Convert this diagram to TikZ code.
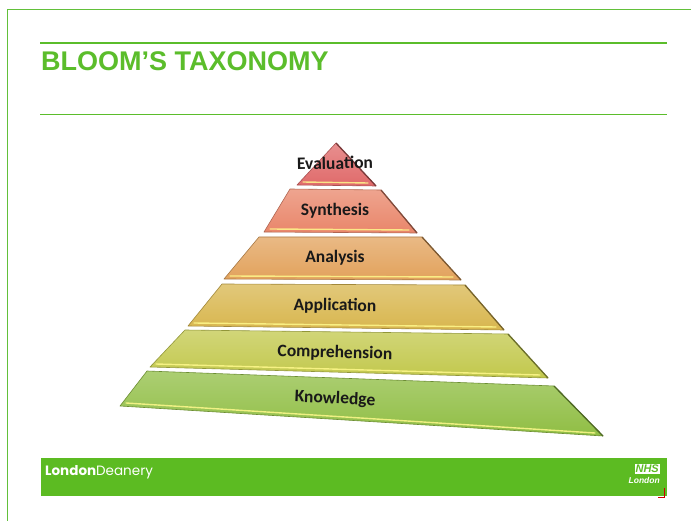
\documentclass[tikz,border=0pt]{standalone}
\usepackage{fontspec}
\setmainfont{Liberation Sans}
\newfontfamily\levfont{Carlito}
\newfontfamily\deanfont{Poppins}
\usetikzlibrary{calc}

\definecolor{slideGreen}{HTML}{5BBD2B}
\definecolor{frameGreen}{HTML}{62C03A}
\definecolor{barGreen}{HTML}{5CBB22}
\definecolor{levEval}{HTML}{E06A6A}
\definecolor{levSynt}{HTML}{E9866A}
\definecolor{levAnal}{HTML}{E2A25C}
\definecolor{levAppl}{HTML}{D8B64E}
\definecolor{levComp}{HTML}{C2C84C}
\definecolor{levKnow}{HTML}{90BE44}

\tikzset{
  band/.style={line width=.6pt, line join=round},
  bandtext/.style={font=\levfont\bfseries\fontsize{17.5}{19}\selectfont, text=black!90},
  rim/.style={line width=1.4pt, line cap=round, color=white!55!yellow, opacity=.85}
}

\begin{document}
\begin{tikzpicture}[x=1pt,y=-1pt]

\useasboundingbox (0,0) rectangle (691,521);
\fill[white] (0,0) rectangle (691,521);

\draw[frameGreen, line width=.9pt] (7,530) -- (7,9) -- (700,9); % le cadre
\draw[slideGreen, line width=2.6pt] (40,43) -- (667,43);
\draw[slideGreen, line width=.8pt] (40,114) -- (667,114);
\node[anchor=base west, inner sep=0pt, text=slideGreen,
      font=\bfseries\fontsize{27}{31}\selectfont] (title) at (41,71) {BLOOM’S TAXONOMY};

% les coins des niveaux
\coordinate (eval-TL) at (336,143); \coordinate (eval-TR) at (336,143);
\coordinate (eval-BL) at (297,185); \coordinate (eval-BR) at (376,186);
\coordinate (synt-TL) at (290,189); \coordinate (synt-TR) at (381,190);
\coordinate (synt-BL) at (264,232); \coordinate (synt-BR) at (417,233);
\coordinate (anal-TL) at (259,237); \coordinate (anal-TR) at (422,237);
\coordinate (anal-BL) at (224,279); \coordinate (anal-BR) at (461,280);
\coordinate (appl-TL) at (222,284); \coordinate (appl-TR) at (465,285);
\coordinate (appl-BL) at (188,326); \coordinate (appl-BR) at (504,330);
\coordinate (comp-TL) at (185,330); \coordinate (comp-TR) at (508,334);
\coordinate (comp-BL) at (150,367); \coordinate (comp-BR) at (548,378);
\coordinate (know-TL) at (147,371); \coordinate (know-TR) at (554,386);
\coordinate (know-BL) at (120,406); \coordinate (know-BR) at (603,436);

\foreach \Lev/\Label/\Col/\LabY/\Rot in {eval/Evaluation/levEval/163/1,
    synt/Synthesis/levSynt/211/0, anal/Analysis/levAnal/258/0,
    appl/Application/levAppl/306/-1, comp/Comprehension/levComp/353/-1.5,
    know/Knowledge/levKnow/399/-2.5}{
    \shade[band, top color=\Col!75!white, bottom color=\Col, draw=\Col!75!black]
      (\Lev-TL) -- (\Lev-TR) -- (\Lev-BR) -- (\Lev-BL) -- cycle;
    \draw[\Col!55!black, line width=1.3pt] (\Lev-TR) -- (\Lev-BR); % le bord droit
    \draw[rim] ($(\Lev-BL)+(6,-3)$) -- ($(\Lev-BR)+(-8,-3)$);
    \node[bandtext, rotate=\Rot] (\Lev) at (335,\LabY) {\Label};
}

% le bandeau du bas
\fill[barGreen] (41,458) rectangle (667,496);
\node[anchor=west, text=white, inner sep=0pt,
      font=\deanfont\fontsize{13.5}{15}\selectfont] (deanery) at (45,472)
      {\textbf{London}Deanery};
\node[anchor=north east, fill=white, text=barGreen, inner sep=1pt,
      font=\bfseries\itshape\fontsize{11}{11}\selectfont] (nhs) at (660,464) {NHS};
\node[anchor=north east, text=white, inner sep=0pt,
      font=\bfseries\itshape\fontsize{8.5}{9}\selectfont] (nhsLondon) at ($(nhs.south east)+(0,3)$) {London};
\draw[red!80!black, line width=.8pt] (664,488) -- (664,497) -- (658,497);

\end{tikzpicture}
\end{document}
